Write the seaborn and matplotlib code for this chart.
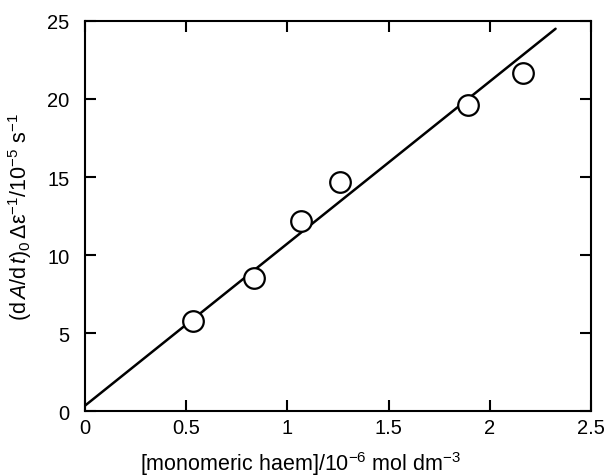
import numpy as np
import pandas as pd
import matplotlib
matplotlib.use('Agg')
import matplotlib.pyplot as plt
import seaborn as sns

# Measured points
haem_conc = [0.534, 0.837, 1.068, 1.261, 1.893, 2.161]
rate = [5.8, 8.55, 12.15, 14.7, 19.6, 21.65]

# Fitted straight line (end points)
fit_x = [0.0, 2.324]
fit_y = [0.35, 24.5]

x_ticks = [0, 0.5, 1, 1.5, 2, 2.5]
x_tick_labels = ['0', '0.5', '1', '1.5', '2', '2.5']
y_ticks = [0, 5, 10, 15, 20, 25]

sns.set_style('ticks')
plt.rcParams['font.family'] = ['Liberation Sans', 'DejaVu Sans']
plt.rcParams['mathtext.fontset'] = 'custom'
plt.rcParams['mathtext.rm'] = 'Liberation Sans'
plt.rcParams['mathtext.it'] = 'Liberation Sans:italic'
plt.rcParams['mathtext.bf'] = 'Liberation Sans:bold'
for key in ['text.color', 'axes.labelcolor', 'xtick.color', 'ytick.color', 'axes.edgecolor']:
    plt.rcParams[key] = 'black'

points = pd.DataFrame({'conc': haem_conc, 'rate': rate})
fit = pd.DataFrame({'conc': fit_x, 'rate': fit_y})

fig = plt.figure(figsize=(6.07, 4.77), dpi=100)
ax = fig.add_axes([0.140, 0.136, 0.834, 0.818])

sns.lineplot(data=fit, x='conc', y='rate', color='black', linewidth=1.8, ax=ax)
sns.scatterplot(data=points, x='conc', y='rate', marker='o', s=220,
                facecolor='white', edgecolor='black', linewidth=1.6, zorder=3, ax=ax)

ax.set_xlim(0, 2.5)
ax.set_ylim(0, 25)
ax.set_xticks(x_ticks)
ax.set_xticklabels(x_tick_labels)
ax.set_yticks(y_ticks)
ax.tick_params(direction='in', length=8, width=1.5, top=True, right=True, labelsize=14.5)
ax.tick_params(axis='y', pad=11)
ax.tick_params(axis='x', pad=5)
for side in ax.spines.values():
    side.set_linewidth(1.5)
    side.set_visible(True)

ax.set_xlabel(r'[monomeric haem]/10$^{-6}$ mol dm$^{-3}$', fontsize=15.5)
ax.xaxis.set_label_coords(0.425, -0.098)
ax.set_ylabel(r'(d$\,\mathit{A}$/d$\,\mathbf{\mathit{t}}$)$_0\,$Δε$^{-1}$/10$^{-5}$ s$^{-1}$',
              fontsize=15.5)
ax.yaxis.set_label_coords(-0.100, 0.5)

fig.savefig('out.png', dpi=100)
